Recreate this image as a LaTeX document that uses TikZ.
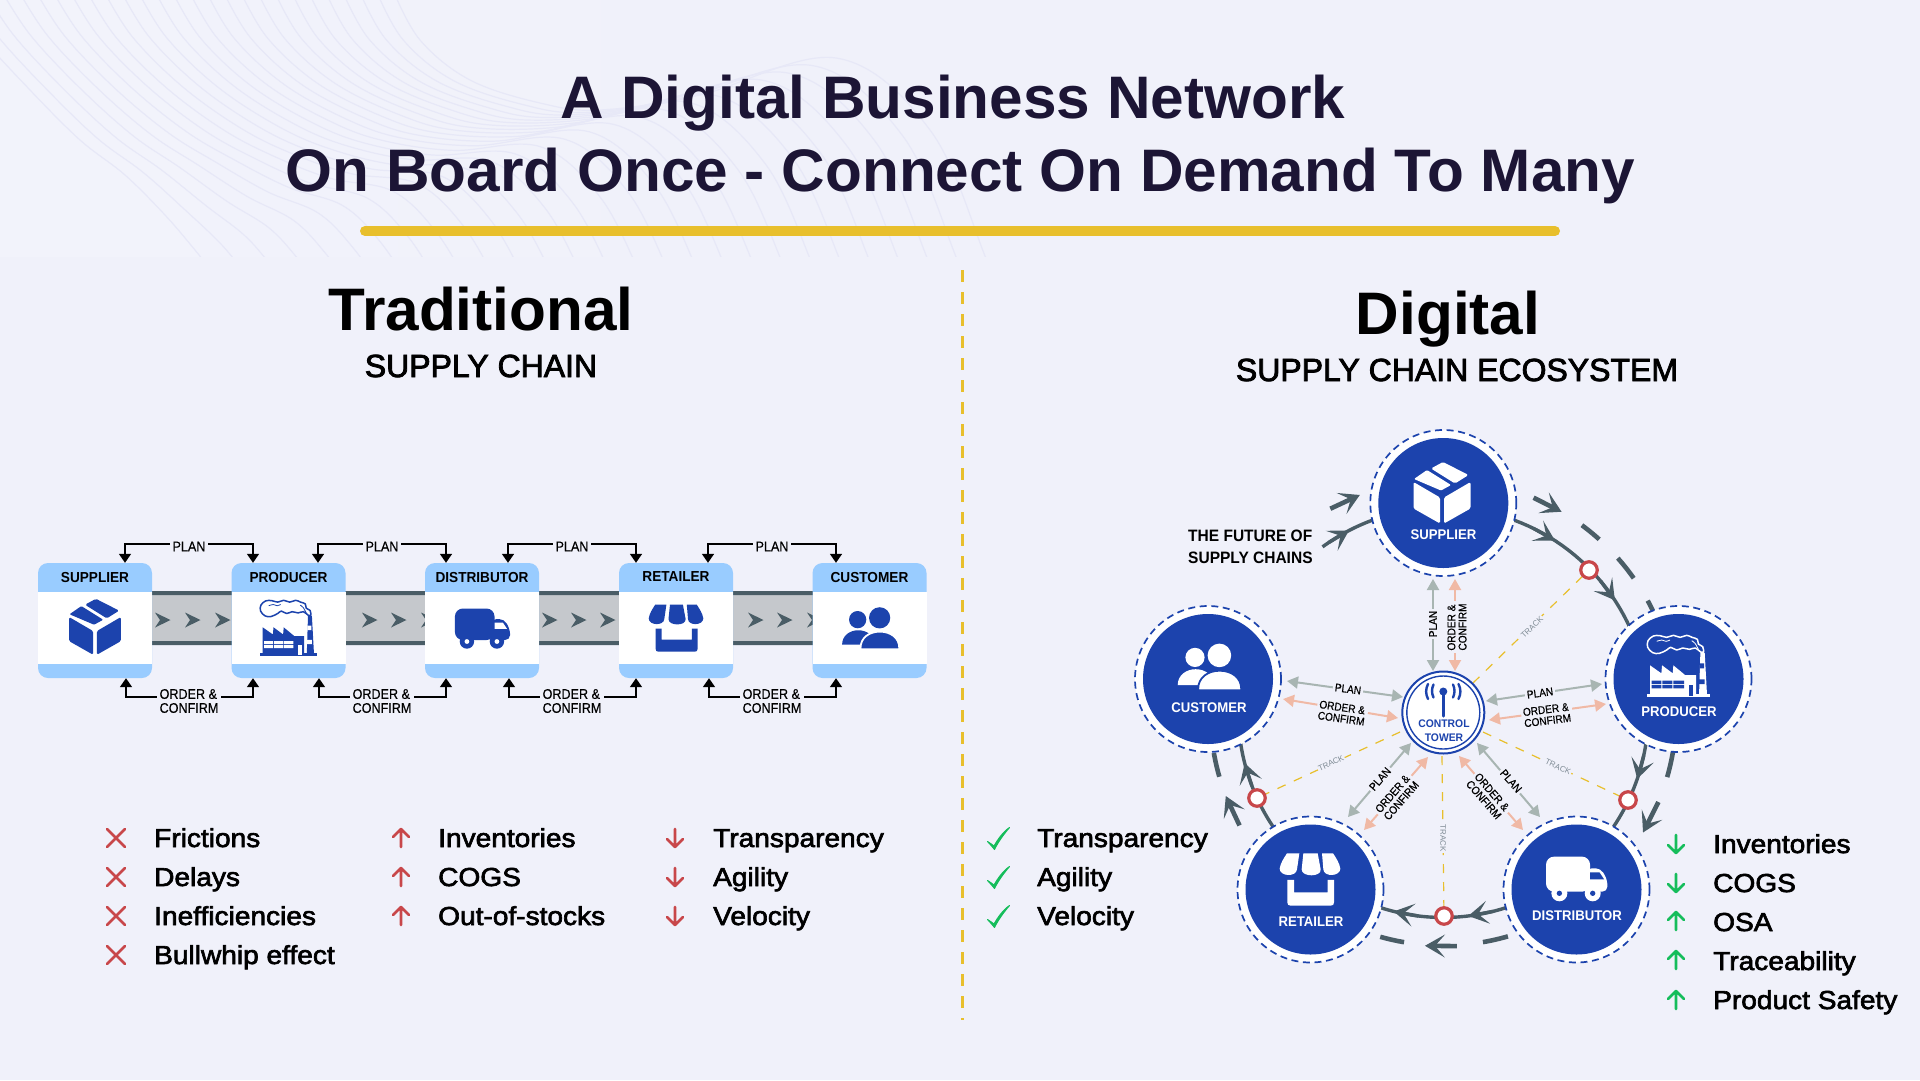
\documentclass[tikz,border=0pt]{standalone}
\usepackage{fontspec}
\usetikzlibrary{arrows.meta,calc}
\setmainfont{Liberation Sans}
\newfontfamily\medf[FakeBold=2.5,FakeStretch=1.08]{Liberation Sans}
\newfontfamily\subf[FakeBold=2.5]{Liberation Sans}
\newfontfamily\headf[FakeStretch=1.005]{Liberation Sans}
\newfontfamily\hdrf[FakeStretch=0.94]{Liberation Sans}
\newfontfamily\lblf[FakeBold=0.4,FakeStretch=0.9]{Liberation Sans}
\definecolor{bgc}{HTML}{F0F1FA}
\definecolor{bgt}{HTML}{F2F3FB}
\definecolor{wavec}{HTML}{E7E8F7}
\definecolor{lblue}{HTML}{99CCFF}
\definecolor{navy}{HTML}{1C43AD}
\definecolor{slate}{HTML}{4A5D66}
\definecolor{beltc}{HTML}{C5C8CC}
\definecolor{gold}{HTML}{E8BF2C}
\definecolor{redc}{HTML}{C8474A}
\definecolor{greenc}{HTML}{15BD5B}
\definecolor{titlec}{HTML}{1C1535}
\definecolor{planc}{HTML}{A8B5B2}
\definecolor{orderc}{HTML}{F0B9A5}
\definecolor{trackc}{HTML}{7F8B95}
\newcommand{\fs}[1]{\fontsize{#1}{#1}\selectfont}
\tikzset{
  x=1pt,y=-1pt,
  wave/.style={draw=wavec,line width=1.2pt},
  chainbox/.style={rectangle,rounded corners=10pt,fill=lblue,minimum width=114pt,minimum height=115pt,inner sep=0pt},
  elbow/.style={draw=black,line width=1.7pt,{Triangle[length=9pt,width=12pt]}-{Triangle[length=9pt,width=12pt]}},
  plabel/.style={fill=bgc,inner xsep=3pt,inner ysep=1pt,font=\lblf\fs{14},align=left},
  hdr/.style={font=\hdrf\bfseries\fs{14.5},inner sep=0pt},
  lst/.style={anchor=base west,inner sep=0pt,font=\medf\fs{26}},
  ring/.style={circle,minimum size=146pt,inner sep=0pt,fill=white,draw=navy,line width=1.7pt,dash pattern=on 7pt off 4.6pt},
  core/.style={circle,minimum size=130pt,inner sep=0pt,fill=navy},
  clab/.style={font=\hdrf\bfseries\fs{14},text=white,inner sep=0pt},
  spokep/.style={draw=planc,line width=2pt,{Triangle[length=11pt,width=12pt]}-{Triangle[length=11pt,width=12pt]}},
  spokeo/.style={draw=orderc,line width=2pt,{Triangle[length=11pt,width=12pt]}-{Triangle[length=11pt,width=12pt]}},
  slabel/.style={fill=bgc,inner xsep=2pt,inner ysep=0.5pt,font=\lblf\fs{11.2},align=left},
  trackl/.style={draw=gold,line width=1.2pt,dash pattern=on 9pt off 9pt},
  tracklab/.style={fill=bgc,inner sep=1pt,font=\fs{8},text=trackc},
  redring/.style={circle,minimum size=16.5pt,inner sep=0pt,fill=white,draw=redc,line width=3.2pt},
  solidarc/.style={draw=slate,line width=3.4pt},
  outerarc/.style={draw=slate,line width=4.6pt},
  outerarrow/.style={outerarc,-{Stealth[length=20pt,width=23pt,inset=10pt]}},
  solidarrow/.style={solidarc,-{Stealth[length=20pt,width=23pt,inset=10pt]}},
  lmark/.style={line width=2.6pt,line cap=round,line join=round}
}
% arcs round the control tower
\newcommand{\arcp}[4]{\draw[#1] plot[domain=#2:#3,samples=24] ({1443.3+#4*cos(\x)},{712.5+#4*sin(\x)});}
\newcommand{\arct}[4]{\draw[#1] plot[domain=#2:#3,samples=2] ({1443.3+#4*cos(\x)},{712.5+#4*sin(\x)});}
% chevrons
\newcommand{\chev}[1]{\fill[slate] (#1,612.5) -- (#1+15.5,620) -- (#1,627.5) -- (#1+5,620) -- cycle;}
% list marks
\newcommand{\crossm}[2]{\draw[lmark,redc] (#1-9,#2-9) -- (#1+9,#2+9) (#1-9,#2+9) -- (#1+9,#2-9);}
\newcommand{\upm}[3]{\draw[lmark,#3] (#1,#2+9) -- (#1,#2-9) (#1-8,#2-1) -- (#1,#2-9) -- (#1+8,#2-1);}
\newcommand{\downm}[3]{\draw[lmark,#3] (#1,#2-9) -- (#1,#2+9) (#1-8,#2+1) -- (#1,#2+9) -- (#1+8,#2+1);}
\newcommand{\checkm}[1]{\filldraw[greenc,line width=1pt,line join=round] (987.5,#1-5.5) .. controls (990,#1-4) and (992,#1-2.5) .. (994,#1-1) .. controls (998,#1-8) and (1003,#1-15) .. (1009.5,#1-19.5) .. controls (1004,#1-13) and (998,#1-5) .. (994.5,#1+2.5) .. controls (992,#1-0.5) and (990,#1-3) .. (987.5,#1-5.5) -- cycle;}
% icons: #1 x, #2 y, #3 scale, #4 fg, #5 bg
\newcommand{\iconbox}[5]{\begin{scope}[shift={(#1,#2)},scale=#3]
\fill[#4,rounded corners=1.5pt] (-28.5,-11) -- (-2,4.5) -- (-2,30.5) -- (-28.5,15.5) -- cycle;
\fill[#4,rounded corners=1.5pt] (2,4.5) -- (28.5,-11) -- (28.5,15.5) -- (2,30.5) -- cycle;
\fill[#4,rounded corners=1.5pt] (1,-31) -- (26.5,-18) -- (13,-9.5) -- (-11,-24.5) -- cycle;
\fill[#4,rounded corners=1pt] (-28,-14) -- (-15,-23) -- (9,-8) -- (-1,-2.5) -- cycle;
\end{scope}}
\newcommand{\iconpeople}[5]{\begin{scope}[shift={(#1,#2)},scale=#3]
\fill[#4] (-13.7,-9.3) circle[radius=9.6];
\fill[#4] (10.7,-11.3) circle[radius=11.8];
\fill[#4] (-31,18.5) .. controls (-31,8) and (-22,2.5) .. (-13,2.5) .. controls (-4,2.5) and (5,8) .. (5,18.5) -- cycle;
\fill[#4,draw=#5,line width=1.8pt] (-10.5,23.5) -- (-10.5,22) .. controls (-10.5,11) and (-1,4) .. (11,4) .. controls (23,4) and (32.5,11) .. (32.5,22) -- (32.5,23.5) -- cycle;
\end{scope}}
\newcommand{\icontruck}[5]{\begin{scope}[shift={(#1,#2)},scale=#3/3,shift={(-140,-115)}]
\fill[#4,rounded corners=8pt] (48,50) -- (180,50) -- (180,155) -- (48,155) -- cycle;
\fill[#4,rounded corners=5pt] (170,85) -- (212,85) -- (232,120) -- (232,155) -- (170,155) -- cycle;
\fill[#5] (180,97) -- (208,97) -- (222,118) -- (180,118) -- cycle;
\fill[#4] (88,160) circle[radius=24];
\fill[#4] (188,160) circle[radius=24];
\fill[#5] (88,160) circle[radius=8];
\fill[#5] (188,160) circle[radius=8];
\end{scope}}
\newcommand{\iconstore}[5]{\begin{scope}[shift={(#1,#2)},scale=#3/3,shift={(-135,-118)}]
\fill[#4] (66,40) -- (103,40) -- (96,88) .. controls (94,112) and (44,110) .. (44,86) .. controls (46,70) and (58,52) .. (66,40) -- cycle;
\fill[#4] (115,40) -- (158,40) -- (167,88) .. controls (170,112) and (109,112) .. (110,88) -- cycle;
\fill[#4] (171,40) -- (204,40) .. controls (212,52) and (224,70) .. (226,86) .. controls (226,110) and (176,112) .. (175,88) -- cycle;
\fill[#4] (67,120) -- (87,120) -- (87,157) -- (188,157) -- (188,120) -- (207,120) -- (207,187) .. controls (207,194) and (204,197) .. (197,197) -- (77,197) .. controls (70,197) and (67,194) .. (67,187) -- cycle;
\end{scope}}
\newcommand{\iconfactory}[5]{\begin{scope}[shift={(#1,#2)},scale=#3/3,shift={(-140,-135)}]
\fill[#4] (60,224) -- (60,136) -- (94,160) -- (96,136) -- (128,160) -- (130,136) -- (165,165) -- (198,165) -- (198,224) -- cycle;
\fill[#4] (52,222) -- (240,222) -- (240,232) -- (52,232) -- cycle;
\fill[#4] (207,226) -- (211,98) -- (224,98) -- (231,226) -- cycle;
\fill[#5] (65,182) rectangle (94,192) (97,182) rectangle (127,192) (130,182) rectangle (162,192);
\fill[#5] (65,195) rectangle (94,205) (97,195) rectangle (127,205) (130,195) rectangle (162,205);
\fill[#5] (176,195) rectangle (190,228);
\fill[#5] (209,130) rectangle (222,145) (207,178) rectangle (224,192);
\draw[#4,line width=1.5pt,fill=#5,line join=round] plot[smooth,tension=0.6] coordinates {(221,96) (218,80) (205,72) (202,58) (186,52) (170,46) (150,52) (130,46) (110,52) (90,47) (70,48) (54,62) (53,82) (68,98) (88,100) (110,90) (122,82) (140,90) (158,84) (178,88) (196,84) (212,96) (221,96)};
\draw[#4,line width=0.8pt] plot[smooth] coordinates {(80,64) (95,60) (108,64) (120,60)};
\draw[#4,line width=0.8pt] plot[smooth] coordinates {(185,62) (195,70) (205,88)};
\end{scope}}
\begin{document}
\begin{tikzpicture}
\useasboundingbox (0,0) rectangle (1920,1080);
\fill[bgc] (0,0) rectangle (1920,1080);
% wave pattern
\begin{scope}
\clip (0,0) rectangle (1000,256);
\shade[left color=bgt,right color=bgc] (0,0) rectangle (800,256);
\foreach \k in {0,...,26}{
  \pgfmathsetmacro{\t}{\k/26}
  \draw[wave] plot[smooth,tension=0.6] coordinates {
    ({393+(-50-393)*\t},{-10})
    ({420+(-20-420)*\t},{40+(35-40)*\t})
    ({470+(30-470)*\t},{80+(90-80)*\t})
    ({540+(80-540)*\t},{103+(140-103)*\t})
    ({600+(125-600)*\t},{110+(175-110)*\t})
    ({700+(165-700)*\t},{95+(215-95)*\t})
    ({836+(195-836)*\t},{58+(250-58)*\t})
    ({930+(215-930)*\t},{130+(275-130)*\t})
    ({985+(240-985)*\t},{256+(300-256)*\t})
    ({1010+(260-1010)*\t},{330+(330-330)*\t})};
}
\end{scope}
% title
\node[anchor=base,inner sep=0pt,font=\headf\bfseries\fs{60},text=titlec] (title1) at (953,118) {A Digital Business Network};
\node[anchor=base,inner sep=0pt,font=\headf\bfseries\fs{60},text=titlec] (title2) at (960.5,191) {On Board Once - Connect On Demand To Many};
\draw[gold,line width=10pt,line cap=round] (365,231) coordinate (barA) -- (1555,231) coordinate (barB);
% divider
\draw[gold,line width=3.5pt,dash pattern=on 12pt off 10pt] (962.5,270) coordinate (divA) -- (962.5,1020) coordinate (divB);
% headings
\node[anchor=base,inner sep=0pt,font=\headf\bfseries\fs{60}] (tradh) at (481,330) {Traditional};
\node[anchor=base,inner sep=0pt,font=\subf\fs{32}] (tradsub) at (481,377) {SUPPLY CHAIN};
\node[anchor=base,inner sep=0pt,font=\headf\bfseries\fs{60}] (digh) at (1448,334) {Digital};
\node[anchor=base,inner sep=0pt,font=\subf\fs{32}] (digsub) at (1457,381) {SUPPLY CHAIN ECOSYSTEM};
% belt
\fill[beltc] (95,595) rectangle (870,641);
\fill[slate] (95,591) rectangle (870,595) (95,641) rectangle (870,645);
\foreach \c in {155,185,215,330,362,391,421,542,571,600,748,777,807}{\chev{\c}}
% chain boxes
\foreach \n/\cx in {sup/95,pro/288.5,dis/482,ret/676,cus/869.5}{
  \node[chainbox] (\n) at (\cx,620.5) {};
  \fill[white] (\cx-57,592) rectangle (\cx+57,664);
}
\node[hdr] (suph) at (95,577) {SUPPLIER};
\node[hdr] (proh) at (288.5,577) {PRODUCER};
\node[hdr] (dish) at (482,577) {DISTRIBUTOR};
\node[hdr] (reth) at (676,577) {RETAILER};
\node[hdr] (cush) at (869.5,577) {CUSTOMER};
\iconbox{95}{627}{0.91}{navy}{white}
\iconfactory{286.7}{627}{0.9}{navy}{white}
\icontruck{482.5}{628}{0.9}{navy}{white}
\iconstore{676}{628}{0.9}{navy}{white}
\iconpeople{870}{628}{0.9}{navy}{white}
% plan connectors
\draw[elbow] ([xshift=30pt]sup.north) -- ++(0,-19) -| ([xshift=-35.5pt]pro.north);
\draw[elbow] ([xshift=29.5pt]pro.north) -- ++(0,-19) -| ([xshift=-36pt]dis.north);
\draw[elbow] ([xshift=26pt]dis.north) -- ++(0,-19) -| ([xshift=-40pt]ret.north);
\draw[elbow] ([xshift=32pt]ret.north) -- ++(0,-19) -| ([xshift=-33.5pt]cus.north);
\node[plabel] (pl1) at (189,546.5) {PLAN};
\node[plabel] (pl2) at (382,546.5) {PLAN};
\node[plabel] (pl3) at (572,546.5) {PLAN};
\node[plabel] (pl4) at (772,546.5) {PLAN};
% order connectors
\draw[elbow] ([xshift=31pt]sup.south) -- ++(0,19) -| ([xshift=-35.5pt]pro.south);
\draw[elbow] ([xshift=30.5pt]pro.south) -- ++(0,19) -| ([xshift=-36pt]dis.south);
\draw[elbow] ([xshift=27pt]dis.south) -- ++(0,19) -| ([xshift=-40pt]ret.south);
\draw[elbow] ([xshift=33pt]ret.south) -- ++(0,19) -| ([xshift=-33.5pt]cus.south);
\node[plabel] (or1) at (189,701) {ORDER \&\\CONFIRM};
\node[plabel] (or2) at (382,701) {ORDER \&\\CONFIRM};
\node[plabel] (or3) at (572,701) {ORDER \&\\CONFIRM};
\node[plabel] (or4) at (772,701) {ORDER \&\\CONFIRM};
% left lists
\crossm{116}{838}\crossm{116}{877}\crossm{116}{916}\crossm{116}{955}
\node[lst] (l1) at (154,847) {Frictions};
\node[lst] (l2) at (154,886) {Delays};
\node[lst] (l3) at (154,925) {Inefficiencies};
\node[lst] (l4) at (154,964) {Bullwhip effect};
\upm{401}{838}{redc}\upm{401}{877}{redc}\upm{401}{916}{redc}
\node[lst] (m1) at (438,847) {Inventories};
\node[lst] (m2) at (438,886) {COGS};
\node[lst] (m3) at (438,925) {Out-of-stocks};
\downm{675}{838}{redc}\downm{675}{877}{redc}\downm{675}{916}{redc}
\node[lst] (n1) at (713,847) {Transparency};
\node[lst] (n2) at (713,886) {Agility};
\node[lst] (n3) at (713,925) {Velocity};
% digital lists
\checkm{847}\checkm{886}\checkm{925}
\node[lst] (d1) at (1037,847) {Transparency};
\node[lst] (d2) at (1037,886) {Agility};
\node[lst] (d3) at (1037,925) {Velocity};
\downm{1676}{844}{greenc}\downm{1676}{883}{greenc}\upm{1676}{921}{greenc}\upm{1676}{960}{greenc}\upm{1676}{1000}{greenc}
\node[lst] (r1) at (1713,853) {Inventories};
\node[lst] (r2) at (1713,892) {COGS};
\node[lst] (r3) at (1713,931) {OSA};
\node[lst] (r4) at (1713,970) {Traceability};
\node[lst] (r5) at (1713,1009) {Product Safety};
\node[anchor=base west,inner sep=0pt,font=\hdrf\bfseries\fs{16.5}] (fut1) at (1188,541) {THE FUTURE OF};
\node[anchor=base west,inner sep=0pt,font=\hdrf\bfseries\fs{16.5}] (fut2) at (1188,563) {SUPPLY CHAINS};
% outer dashes and arcs
\arct{outerarrow}{-67.2}{-59.5}{233}
\arcp{outerarc}{-53.5}{-48}{233}
\arcp{outerarc}{-41.5}{-35.2}{233}
\arcp{outerarc}{-28.7}{-25.9}{233}
\arcp{outerarc}{9.7}{16.1}{233}
\arct{outerarrow}{22.6}{31}{233}
\arcp{outerarc}{73.9}{80.2}{233}
\arct{outerarrow}{86.7}{94.5}{234}
\arcp{outerarc}{99.7}{105.7}{233}
\arct{outerarrow}{151}{159}{233}
\arcp{outerarc}{164}{170}{233}
\arct{outerarrow}{241}{249}{233}
% inner solid arcs
\arcp{solidarc}{-72}{-22}{205}
\arcp{solidarc}{6}{36}{205}
\arcp{solidarc}{70}{110}{205}
\arcp{solidarc}{144}{173}{205}
\arcp{solidarc}{233.9}{251}{205}
\arct{solidarrow}{-64}{-57}{205}
\arct{solidarrow}{-40}{-33.2}{205}
\arct{solidarrow}{12}{18.9}{205}
\arct{solidarrow}{76}{83}{205}
\arct{solidarrow}{97}{104}{205}
\arct{solidarrow}{159}{165.7}{205}
\arct{solidarrow}{236}{242.6}{205}
% tracks
\coordinate (rg1) at (1589,570);
\coordinate (rg2) at (1628,800);
\coordinate (rg3) at (1444,916);
\coordinate (rg4) at (1257,798);
\coordinate (ta1) at (1473,683);
\coordinate (ta2) at (1483,732);
\coordinate (ta3) at (1442,756);
\coordinate (ta4) at (1400,732);
\draw[trackl] (ta1) -- (rg1);
\draw[trackl] (ta2) -- (rg2);
\draw[trackl] (ta3) -- (rg3);
\draw[trackl] (ta4) -- (rg4);
\node[tracklab,rotate=44] (tr1) at (1532,627) {TRACK};
\node[tracklab,rotate=-25] (tr2) at (1558,767) {TRACK};
\node[tracklab,rotate=-90] (tr3) at (1443,838) {TRACK};
\node[tracklab,rotate=25] (tr4) at (1331,763) {TRACK};
\node[redring] (rr1) at (rg1) {};
\node[redring] (rr2) at (rg2) {};
\node[redring] (rr3) at (rg3) {};
\node[redring] (rr4) at (rg4) {};
% spokes
\coordinate (sa1) at (1433,579); \coordinate (sb1) at (1433,671);
\coordinate (sa2) at (1455,579); \coordinate (sb2) at (1455,671);
\coordinate (sa3) at (1287,681); \coordinate (sb3) at (1403,697);
\coordinate (sa4) at (1283,699); \coordinate (sb4) at (1398,718);
\coordinate (sa5) at (1486,701); \coordinate (sb5) at (1602,684);
\coordinate (sa6) at (1489,720); \coordinate (sb6) at (1606,704);
\coordinate (sa7) at (1477,743); \coordinate (sb7) at (1540,817);
\coordinate (sa8) at (1459,756); \coordinate (sb8) at (1523,830);
\coordinate (sa9) at (1411,743); \coordinate (sb9) at (1348,817);
\coordinate (sa0) at (1428,757); \coordinate (sb0) at (1364,830);
\draw[spokep] (sa1) -- (sb1);
\draw[spokeo] (sa2) -- (sb2);
\draw[spokep] (sa3) -- (sb3);
\draw[spokeo] (sa4) -- (sb4);
\draw[spokep] (sa5) -- (sb5);
\draw[spokeo] (sa6) -- (sb6);
\draw[spokep] (sa7) -- (sb7);
\draw[spokeo] (sa8) -- (sb8);
\draw[spokep] (sa9) -- (sb9);
\draw[spokeo] (sa0) -- (sb0);
\node[slabel,rotate=90] (s1) at (1433,624) {PLAN};
\node[slabel,rotate=90] (s2) at (1457,627) {ORDER \&\\CONFIRM};
\node[slabel,rotate=-7.5] (s3) at (1348,689) {PLAN};
\node[slabel,rotate=-8] (s4) at (1342,713) {ORDER \&\\CONFIRM};
\node[slabel,rotate=8] (s5) at (1540,693) {PLAN};
\node[slabel,rotate=7] (s6) at (1547,715) {ORDER \&\\CONFIRM};
\node[slabel,rotate=-49] (s7) at (1511,781) {PLAN};
\node[slabel,rotate=-49] (s8) at (1488,796) {ORDER \&\\CONFIRM};
\node[slabel,rotate=49] (s9) at (1380,779) {PLAN};
\node[slabel,rotate=49] (s0) at (1397,797) {ORDER \&\\CONFIRM};
% circles
\foreach \n/\cx/\cy in {csup/1443.3/503,ccus/1208/679,cpro/1678.5/679,cret/1310.5/889.5,cdis/1576.5/889.5}{
  \node[ring] (\n r) at (\cx,\cy) {};
  \node[core] (\n) at (\cx,\cy) {};
}
\iconbox{1442}{493}{1}{white}{navy}
\iconpeople{1208.7}{666.7}{1}{white}{navy}
\iconfactory{1676.7}{665}{1}{white}{navy}
\iconstore{1310}{879.3}{1}{white}{navy}
\icontruck{1576.7}{878.3}{1}{white}{navy}
\node[clab] (csupl) at (1443.5,534.7) {SUPPLIER};
\node[clab] (ccusl) at (1209,708) {CUSTOMER};
\node[clab] (cprol) at (1679,712) {PRODUCER};
\node[clab] (cretl) at (1311,922) {RETAILER};
\node[clab] (cdisl) at (1577,916) {DISTRIBUTOR};
% control tower
\node[circle,minimum size=82pt,inner sep=0pt,fill=white,draw=navy,line width=2pt] (tower) at (1443.3,712.5) {};
\node[circle,minimum size=73pt,inner sep=0pt,draw=navy,line width=1.4pt] (towerin) at (1443.3,712.5) {};
\draw[navy,line width=3pt,line cap=round] (1443.3,692) -- (1443.3,716);
\fill[navy] (1443.3,691.5) circle[radius=4];
\draw[navy,line width=2.4pt,line cap=round] (1433.5,684.5) .. controls (1431.5,689) and (1431.5,693) .. (1433.5,697.5);
\draw[navy,line width=2.4pt,line cap=round] (1453,684.5) .. controls (1455,689) and (1455,693) .. (1453,697.5);
\draw[navy,line width=2.4pt,line cap=round] (1428,684) .. controls (1425.5,689) and (1425.5,694) .. (1428,699);
\draw[navy,line width=2.4pt,line cap=round] (1458.5,684) .. controls (1461,689) and (1461,694) .. (1458.5,699);
\node[font=\hdrf\bfseries\fs{11},text=navy,inner sep=0pt] (tow1) at (1444,724) {CONTROL};
\node[font=\hdrf\bfseries\fs{11},text=navy,inner sep=0pt] (tow2) at (1444,738) {TOWER};
\end{tikzpicture}
\end{document}
